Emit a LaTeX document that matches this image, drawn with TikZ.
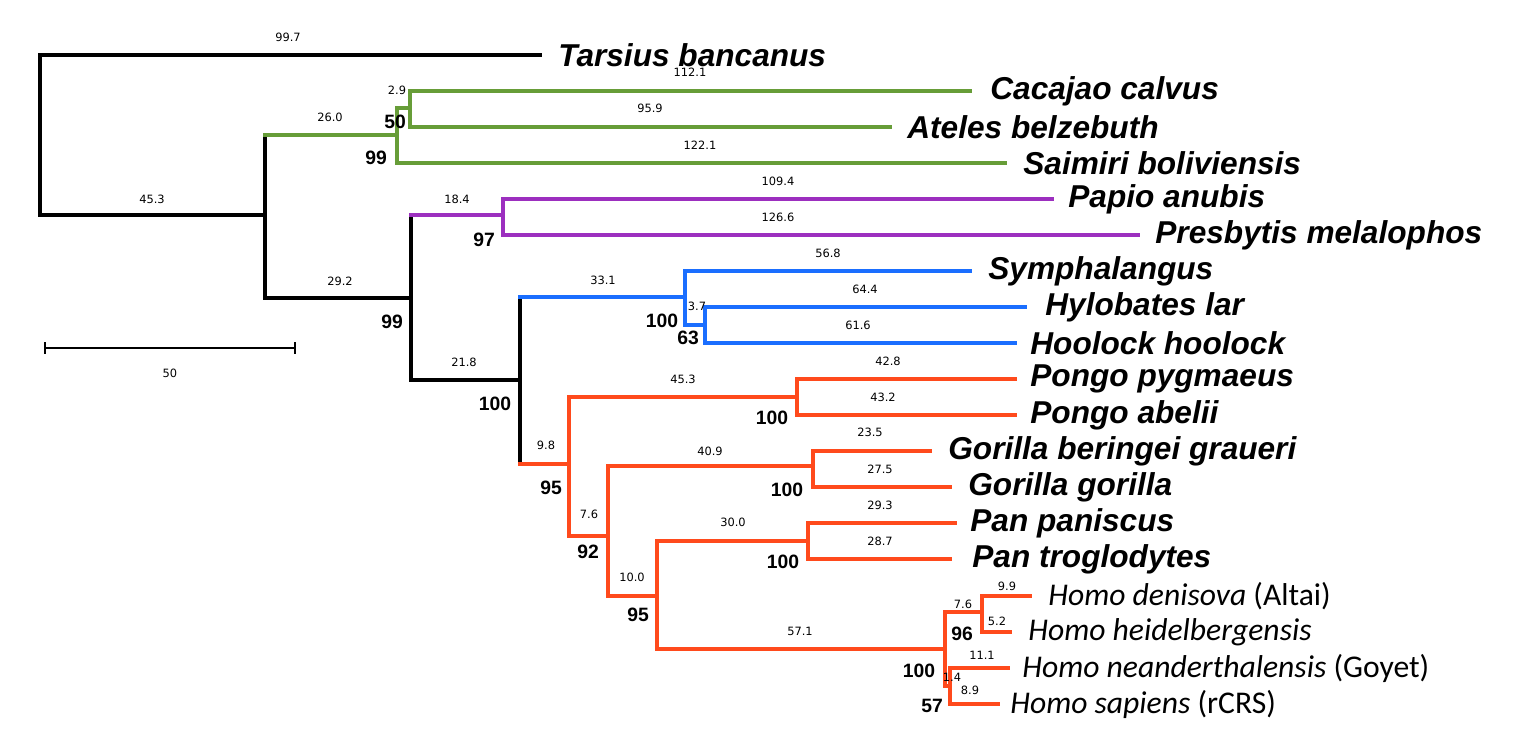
\documentclass[tikz,border=0pt]{standalone}
\usepackage{fontspec}
\setmainfont{Liberation Sans}
\newfontfamily\smallf{DejaVu Sans}
\newfontfamily\homof{Carlito}
\begin{document}
\begin{tikzpicture}[x=0.02cm,y=-0.02cm,line cap=rect,
  br/.style={line width=2.3pt},
  K/.style={br,black}, G/.style={br,grn}, P/.style={br,pur}, B/.style={br,blu}, R/.style={br,red1},
  lf/.style={anchor=west,inner sep=0pt,font=\fontsize{18}{20}\selectfont\bfseries\itshape},
  hl/.style={anchor=west,inner sep=0pt,font=\homof\fontsize{18}{20}\selectfont},
  bl/.style={inner sep=0pt,font=\smallf\fontsize{6.5}{7}\selectfont},
  bs/.style={inner sep=0pt,font=\fontsize{11}{12}\selectfont\bfseries}]
\definecolor{grn}{HTML}{679D38}\definecolor{pur}{HTML}{9C2FBF}
\definecolor{blu}{HTML}{1A6EFF}\definecolor{red1}{HTML}{FF4A1C}
\useasboundingbox (0,0) rectangle (1528,736);
% internal nodes
\coordinate (r) at (40,135);\coordinate (a) at (265,215);\coordinate (g) at (397,135);
\coordinate (g2) at (410,108);\coordinate (b) at (411,298);\coordinate (p) at (503,215);
\coordinate (c) at (520,380);\coordinate (h) at (685,297);\coordinate (h2) at (705,325);
\coordinate (o) at (569,464);\coordinate (pg) at (797,397);\coordinate (d) at (608,536);
\coordinate (go) at (813,466);\coordinate (e) at (657,596);\coordinate (pa) at (808,541);
\coordinate (hm) at (945,649);\coordinate (hd) at (982,612);\coordinate (hs) at (950,686);
% leaves
\coordinate (T) at (540,55);\coordinate (Cc) at (970,91);\coordinate (At) at (890,127);
\coordinate (Sa) at (1005,163);\coordinate (Pa) at (1052,199);\coordinate (Pr) at (1138,235);
\coordinate (Sy) at (970,271);\coordinate (Hy) at (1025,307);\coordinate (Ho) at (1015,343);
\coordinate (Pp) at (1015,379);\coordinate (Pb) at (1015,415);\coordinate (Gb) at (930,451);
\coordinate (Gg) at (950,487);\coordinate (Pn) at (955,523);\coordinate (Pt) at (950,559);
\coordinate (Hd) at (1030,596);\coordinate (Hh) at (1010,632);\coordinate (Hn) at (1008,668);
\coordinate (Hs) at (998,704);
% verticals
\draw[K] (r|-T)--(r|-a); \draw[K] (a|-g)--(a|-b);
\draw[G] (g|-g2)--(g|-Sa); \draw[G] (g2|-Cc)--(g2|-At);
\draw[K] (b|-p)--(b|-c); \draw[P] (p|-Pa)--(p|-Pr);
\draw[K] (c|-h)--(c|-o); \draw[B] (h|-Sy)--(h|-h2); \draw[B] (h2|-Hy)--(h2|-Ho);
\draw[R] (o|-pg)--(o|-d); \draw[R] (pg|-Pp)--(pg|-Pb); \draw[R] (d|-go)--(d|-e);
\draw[R] (go|-Gb)--(go|-Gg); \draw[R] (e|-pa)--(e|-hm); \draw[R] (pa|-Pn)--(pa|-Pt);
\draw[R] (hm|-hd)--(hm|-hs); \draw[R] (hd|-Hd)--(hd|-Hh); \draw[R] (hs|-Hn)--(hs|-Hs);
% horizontals
\draw[K] (r|-T)--(T); \draw[K] (r|-a)--(a);
\draw[G] (a|-g)--(g); \draw[K] (a|-b)--(b);
\draw[G] (g|-g2)--(g2); \draw[G] (g|-Sa)--(Sa); \draw[G] (g2|-Cc)--(Cc); \draw[G] (g2|-At)--(At);
\draw[P] (b|-p)--(p); \draw[K] (b|-c)--(c);
\draw[P] (p|-Pa)--(Pa); \draw[P] (p|-Pr)--(Pr);
\draw[B] (c|-h)--(h); \draw[R] (c|-o)--(o);
\draw[B] (h|-Sy)--(Sy); \draw[B] (h|-h2)--(h2); \draw[B] (h2|-Hy)--(Hy); \draw[B] (h2|-Ho)--(Ho);
\draw[R] (o|-pg)--(pg); \draw[R] (o|-d)--(d); \draw[R] (pg|-Pp)--(Pp); \draw[R] (pg|-Pb)--(Pb);
\draw[R] (d|-go)--(go); \draw[R] (d|-e)--(e); \draw[R] (go|-Gb)--(Gb); \draw[R] (go|-Gg)--(Gg);
\draw[R] (e|-pa)--(pa); \draw[R] (e|-hm)--(hm); \draw[R] (pa|-Pn)--(Pn); \draw[R] (pa|-Pt)--(Pt);
\draw[R] (hm|-hd)--(hd); \draw[R] (hm|-hs)--(hs);
\draw[R] (hd|-Hd)--(Hd); \draw[R] (hd|-Hh)--(Hh); \draw[R] (hs|-Hn)--(Hn); \draw[R] (hs|-Hs)--(Hs);
% leaf labels
\node[lf] (lT) at (558,55) {Tarsius bancanus};
\node[lf] (lCc) at (990,91) {Cacajao calvus};
\node[lf] (lAt) at (907,127) {Ateles belzebuth};
\node[lf] (lSa) at (1023,163) {Saimiri boliviensis};
\node[lf] (lPa) at (1068,199) {Papio anubis};
\node[lf] (lPr) at (1155,235) {Presbytis melalophos};
\node[lf] (lSy) at (988,271) {Symphalangus};
\node[lf] (lHy) at (1045,307) {Hylobates lar};
\node[lf] (lHo) at (1030,343) {Hoolock hoolock};
\node[lf] (lPp) at (1030,379) {Pongo pygmaeus};
\node[lf] (lPb) at (1030,415) {Pongo abelii};
\node[lf] (lGb) at (948,451) {Gorilla beringei graueri};
\node[lf] (lGg) at (968,487) {Gorilla gorilla};
\node[lf] (lPn) at (970,523) {Pan paniscus};
\node[lf] (lPt) at (972,559) {Pan troglodytes};
\node[hl] (lHd) at (1048,596) {\textit{Homo denisova} (Altai)};
\node[hl] (lHh) at (1028,632) {\textit{Homo heidelbergensis}};
\node[hl] (lHn) at (1022,668) {\textit{Homo neanderthalensis} (Goyet)};
\node[hl] (lHs) at (1010,704) {\textit{Homo sapiens} (rCRS)};
% branch lengths
\foreach \t/\x/\y in {99.7/288/37,112.1/690/72,2.9/397/90,95.9/650/108,26.0/330/117,122.1/700/145,
 45.3/152/199,18.4/457/199,109.4/778/181,126.6/778/217,29.2/340/281,56.8/828/253,33.1/603/280,
 64.4/865/289,3.7/697/306,61.6/858/325,21.8/464/362,42.8/888/361,45.3/683/379,43.2/883/397,
 23.5/870/432,40.9/710/451,9.8/546/445,27.5/880/469,7.6/589/514,29.3/880/505,30.0/733/522,
 28.7/880/541,10.0/632/577,9.9/1007/586,7.6/963/604,5.2/997/621,57.1/800/631,11.1/982/655,
 1.4/952/677,8.9/970/690}
 \node[bl] at (\x,\y) {\t};
% bootstrap
\foreach \t/\x/\y in {50/395/122,99/376/158,97/484/240,99/392/322,100/662/321,63/688/338,
 100/495/404,100/772/418,95/551/488,100/787/490,92/588/552,100/783/562,95/638/615,96/962/634,
 100/919/671,57/932/706}
 \node[bs] at (\x,\y) {\t};
% scale bar
\coordinate (s1) at (45,348); \coordinate (s2) at (295,348);
\draw[line width=0.6pt] (s1)--(s2); \draw[line width=0.6pt] ([yshift=-3pt]s1)--([yshift=3pt]s1);
\draw[line width=0.6pt] ([yshift=-3pt]s2)--([yshift=3pt]s2);
\node[bl] (sl) at (170,373) {50};
\end{tikzpicture}
\end{document}
